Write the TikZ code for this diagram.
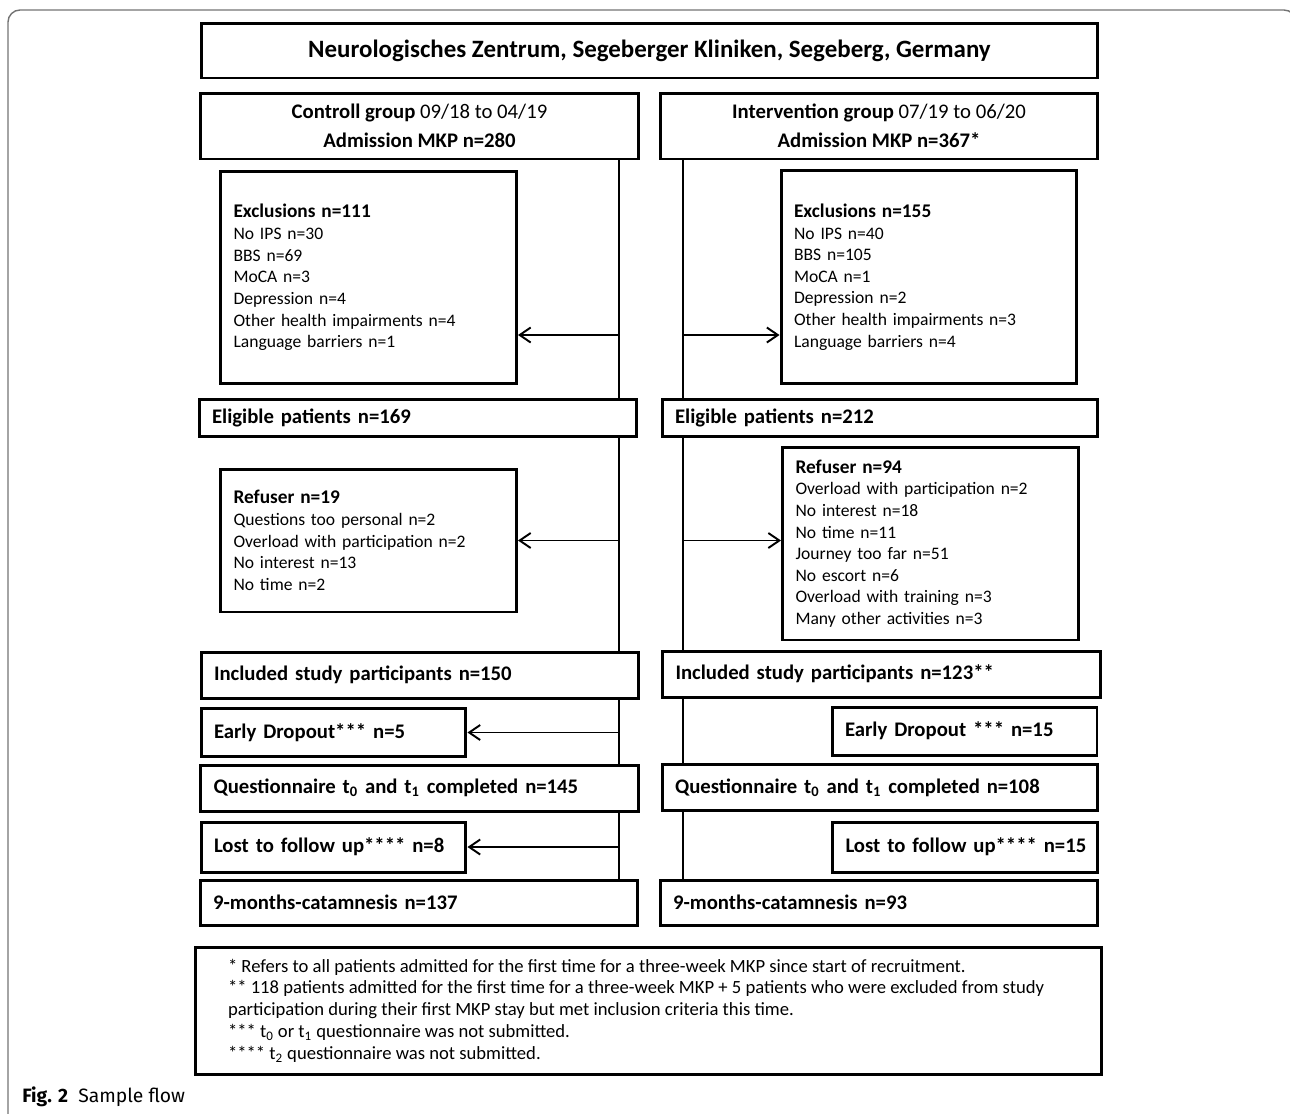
\documentclass[tikz,border=0pt]{standalone}
\usepackage{fontspec}
\setmainfont{Carlito}
\newfontfamily\capfont{Fira Sans}
\usetikzlibrary{arrows.meta}

\begin{document}
\begin{tikzpicture}[x=0.02cm,y=-0.02cm, % 1px = 0.02cm
  bx/.style={draw,line width=1.7pt,fill=white,inner sep=0pt,inner xsep=0.26cm},
  big/.style={font=\fontsize{11.8pt}{16.5pt}\selectfont\bfseries},
  small/.style={font=\fontsize{10pt}{12.3pt}\selectfont},
  gbox/.style={bx,big,align=center,minimum width=8.76cm,minimum height=1.32cm},
  wbox/.style={bx,big,align=left,minimum width=8.76cm,text width=8.24cm,minimum height=0.92cm},
  nbox/.style={bx,big,align=left,minimum width=5.3cm,text width=4.78cm,minimum height=0.96cm},
  lbox/.style={bx,small,align=left,minimum width=5.92cm,text width=5.4cm},
  ln/.style={line width=1.1pt},
  arr/.style={ln,-{Straight Barb[length=0.22cm,width=0.3cm]}}]
\newcommand{\hd}[1]{{\fontsize{11pt}{13pt}\selectfont\bfseries #1}}
\useasboundingbox (0,0) rectangle (1290,1113);
\begin{scope}
  \clip (0,0) rectangle (1290,1113);
  \draw[gray!90!black,line width=0.8pt,rounded corners=0.24cm] (8,10) rectangle (1296,1140);
\end{scope}
\node[bx,minimum width=17.94cm,minimum height=1.1cm,font=\fontsize{14.2pt}{17pt}\selectfont\bfseries]
  (T) at (649.5,50.5) {Neurologisches Zentrum, Segeberger Kliniken, Segeberg, Germany};
% Controll group
\node[gbox] (C1) at (419.5,126) {\textbf{Controll group} \mdseries 09/18 to 04/19\\Admission MKP n=280};
\node[lbox,minimum height=4.26cm] (C2) at (368.5,277.5) {\hd{Exclusions n=111}\\No IPS n=30\\BBS n=69\\MoCA n=3\\Depression n=4\\Other health impairments n=4\\Language barriers n=1};
\node[wbox,minimum height=0.74cm] (C3) at (418,417.5) {Eligible patients n=169};
\node[lbox,minimum height=2.86cm] (C4) at (368.5,540.5) {\hd{Refuser n=19}\\Questions too personal n=2\\Overload with participation n=2\\No interest n=13\\No time n=2};
\node[wbox] (C5) at (420,675) {Included study participants n=150};
\node[nbox] (C6) at (333.5,732.5) {\mbox{Early Dropout*** n=5}};
\node[wbox] (C7) at (419.5,788) {Questionnaire t\textsubscript{0} and t\textsubscript{1} completed n=145};
\node[nbox,minimum height=1cm] (C8) at (333.5,847) {\mbox{Lost to follow up**** n=8}};
\node[wbox,minimum height=0.9cm] (C9) at (419,902.5) {9-months-catamnesis n=137};
% Intervention group
\node[gbox] (I1) at (879,126) {\textbf{Intervention group} \mdseries 07/19 to 06/20\\Admission MKP n=367*};
\node[lbox,minimum height=4.28cm] (I2) at (929,277) {\hd{Exclusions n=155}\\No IPS n=40\\BBS n=105\\MoCA n=1\\Depression n=2\\Other health impairments n=3\\Language barriers n=4};
\node[wbox,minimum width=8.72cm,text width=8.2cm,minimum height=0.74cm] (I3) at (880,417.5) {Eligible patients n=212};
\node[lbox,minimum height=3.86cm] (I4) at (930.5,543.5) {\hd{Refuser n=94}\\Overload with participation n=2\\No interest n=18\\No time n=11\\Journey too far n=51\\No escort n=6\\Overload with training n=3\\Many other activities n=3};
\node[wbox] (I5) at (881.5,674) {Included study participants n=123**};
\node[nbox] (I6) at (964.5,731) {\mbox{Early Dropout *** n=15}};
\node[wbox,minimum width=8.72cm,text width=8.2cm] (I7) at (880,787.5) {Questionnaire t\textsubscript{0} and t\textsubscript{1} completed n=108};
\node[nbox,minimum height=1cm] (I8) at (965,847) {\mbox{Lost to follow up**** n=15}};
\node[wbox,minimum height=0.9cm] (I9) at (879,902.5) {9-months-catamnesis n=93};
% footnotes
\node[bx,align=left,minimum width=18.14cm,minimum height=2.54cm,font=\fontsize{10.6pt}{12.4pt}\selectfont] (N) at (648.5,1010.5)
  {{*} Refers to all patients admitted for the first time for a three-week MKP since start of recruitment.\\
   {**} 118 patients admitted for the first time for a three-week MKP + 5 patients who were excluded from study\rule{0.5cm}{0pt}\\
   participation during their first MKP stay but met inclusion criteria this time.\\
   {***} t\textsubscript{0} or t\textsubscript{1} questionnaire was not submitted.\\
   {****} t\textsubscript{2} questionnaire was not submitted.};
\node[anchor=base west,inner sep=0pt,font=\capfont\fontsize{11pt}{13pt}\selectfont] (F) at (22,1102)
  {\textbf{Fig. 2}\ \ Sample flow};
% connectors
\coordinate (xL) at (619,0);
\coordinate (xR) at (683,0);
\coordinate (yE) at (0,335);
\draw[ln] (C1.south -| xL) -- (C3.north -| xL);
\draw[ln] (C3.south -| xL) -- (C5.north -| xL);
\draw[ln] (C5.south -| xL) -- (C7.north -| xL);
\draw[ln] (C7.south -| xL) -- (C9.north -| xL);
\draw[ln] (I1.south -| xR) -- (I3.north -| xR);
\draw[ln] (I3.south -| xR) -- (I5.north -| xR);
\draw[ln] (I5.south -| xR) -- (I7.north -| xR);
\draw[ln] (I7.south -| xR) -- (I9.north -| xR);
\draw[arr] (xL |- yE) -- (C2.east |- yE);
\draw[arr] (xR |- yE) -- (I2.west |- yE);
\draw[arr] (C4.east -| xL) -- (C4.east);
\draw[arr] (xR |- C4.east) -- (I4.west |- C4.east);
\draw[arr] (C6.east -| xL) -- (C6.east);
\draw[arr] (C8.east -| xL) -- (C8.east);
\end{tikzpicture}
\end{document}
